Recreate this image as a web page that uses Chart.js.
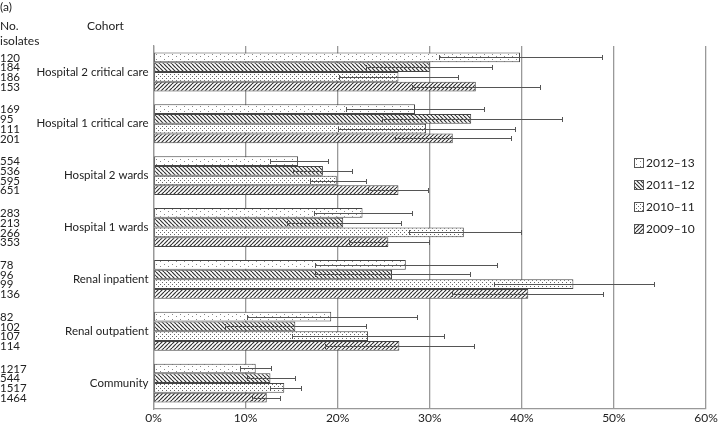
<!DOCTYPE html>
<html>
<head>
<meta charset="utf-8">
<script src="https://cdn.jsdelivr.net/npm/chart.js@4"></script>
<style>
  html, body { margin: 0; padding: 0; background: #fff; }
  #wrap { width: 723px; height: 425px; position: relative; }
</style>
</head>
<body>
<div id="wrap"><canvas id="chart" width="723" height="425"></canvas></div>
<script>
// --- data ---
const cohorts = ['Hospital 2 critical care', 'Hospital 1 critical care', 'Hospital 2 wards',
  'Hospital 1 wards', 'Renal inpatient', 'Renal outpatient', 'Community'];
const years = ['2012–13', '2011–12', '2010–11', '2009–10'];

// number of isolates per cohort, per year
const iso1213 = [120, 169, 554, 283, 78, 82, 1217];
const iso1112 = [184, 95, 536, 213, 96, 102, 544];
const iso1011 = [186, 111, 595, 266, 99, 107, 1517];
const iso0910 = [153, 201, 651, 353, 136, 114, 1464];

// percentage + confidence interval
const v1213 = [39.8, 28.4, 15.7, 22.7, 27.4, 19.3, 11.1];
const lo1213 = [31.0, 20.9, 12.7, 17.4, 17.5, 10.1, 9.4];
const hi1213 = [48.7, 35.9, 18.9, 28.1, 37.3, 28.6, 12.8];

const v1112 = [30.0, 34.5, 18.4, 20.6, 25.9, 15.4, 12.7];
const lo1112 = [23.1, 24.8, 15.2, 14.5, 17.5, 7.8, 10.1];
const hi1112 = [36.8, 44.4, 21.6, 26.9, 34.4, 23.1, 15.4];

const v1011 = [26.6, 29.6, 19.9, 33.7, 45.6, 23.3, 14.2];
const lo1011 = [20.1, 20.0, 17.0, 27.8, 37.0, 15.0, 12.6];
const hi1011 = [33.1, 39.3, 23.1, 39.9, 54.3, 31.6, 16.0];

const v0910 = [35.0, 32.5, 26.6, 25.5, 40.7, 26.7, 12.3];
const lo0910 = [28.1, 26.2, 23.3, 21.2, 32.4, 18.6, 10.7];
const hi0910 = [42.0, 38.8, 29.8, 29.9, 48.8, 34.8, 13.7];

const xTicks = [0, 10, 20, 30, 40, 50, 60];

const FONT = 'Lato, "Open Sans", sans-serif';
const INK = '#222';

// --- fill patterns ---
function makePattern(kind) {
  const c = document.createElement('canvas');
  const g = c.getContext('2d');
  if (kind === 'back' || kind === 'fwd') {
    const s = 4;
    c.width = s; c.height = s;
    g.fillStyle = '#fff'; g.fillRect(0, 0, s, s);
    g.strokeStyle = '#333'; g.lineWidth = 1.2;
    for (let i = -1; i <= 1; i++) {
      g.beginPath();
      if (kind === 'back') { g.moveTo(i * s, 0); g.lineTo(i * s + s, s); }
      else { g.moveTo(i * s, s); g.lineTo(i * s + s, 0); }
      g.stroke();
    }
  } else if (kind === 'dense') {
    c.width = 4; c.height = 4;
    g.fillStyle = '#fff'; g.fillRect(0, 0, 4, 4);
    g.fillStyle = '#666';
    g.fillRect(0, 0, 1, 1); g.fillRect(2, 2, 1, 1);
  } else {
    c.width = 8; c.height = 5;
    g.fillStyle = '#fff'; g.fillRect(0, 0, 8, 5);
    g.fillStyle = '#888';
    g.fillRect(0, 1, 1, 1); g.fillRect(4, 4, 1, 1);
  }
  return g.createPattern(c, 'repeat');
}

const fills = [makePattern('sparse'), makePattern('back'), makePattern('dense'), makePattern('fwd')];
const values = [v1213, v1112, v1011, v0910];
const lows = [lo1213, lo1112, lo1011, lo0910];
const highs = [hi1213, hi1112, hi1011, hi0910];
const isolates = [iso1213, iso1112, iso1011, iso0910];

// error bars, isolate counts, headers and legend
const extras = {
  id: 'extras',
  afterDatasetsDraw(chart) {
    const ctx = chart.ctx;
    const x = chart.scales.x;
    ctx.save();
    ctx.strokeStyle = '#555';
    ctx.lineWidth = 1;
    chart.data.datasets.forEach((ds, di) => {
      const meta = chart.getDatasetMeta(di);
      meta.data.forEach((bar, i) => {
        const y = Math.round(bar.y) + 0.5;
        const x1 = Math.round(x.getPixelForValue(lows[di][i])) + 0.5;
        const x2 = Math.round(x.getPixelForValue(highs[di][i])) + 0.5;
        ctx.beginPath();
        ctx.moveTo(x1, y); ctx.lineTo(x2, y);
        ctx.moveTo(x1, y - 2.5); ctx.lineTo(x1, y + 2.5);
        ctx.moveTo(x2, y - 2.5); ctx.lineTo(x2, y + 2.5);
        ctx.stroke();
      });
    });
    ctx.restore();
  },
  afterDraw(chart) {
    const ctx = chart.ctx;
    ctx.save();
    ctx.fillStyle = INK;
    ctx.textBaseline = 'middle';
    ctx.textAlign = 'left';
    // isolate counts next to each bar
    ctx.font = '11.5px ' + FONT;
    chart.data.datasets.forEach((ds, di) => {
      chart.getDatasetMeta(di).data.forEach((bar, i) => {
        ctx.fillText(String(isolates[di][i]), 0, bar.y + 0.5);
      });
    });
    // headers
    ctx.font = '12px ' + FONT;
    ctx.fillText('(a)', 0, 7);
    ctx.fillText('No.', 0, 26);
    ctx.fillText('isolates', 0, 41);
    ctx.fillText('Cohort', 87, 26);
    // legend
    years.forEach((yr, k) => {
      const ly = 163 + k * 22;
      ctx.fillStyle = fills[k];
      ctx.fillRect(634, ly - 4.5, 9, 9);
      ctx.strokeStyle = '#555';
      ctx.strokeRect(634.5, ly - 4.5, 9, 9);
      ctx.fillStyle = INK;
      ctx.fillText(yr, 646, ly);
    });
    ctx.restore();
  }
};

new Chart(document.getElementById('chart'), {
  type: 'bar',
  data: {
    labels: cohorts,
    datasets: years.map((yr, k) => ({
      label: yr,
      data: values[k],
      backgroundColor: fills[k],
      borderColor: '#444',
      borderWidth: 1,
      borderSkipped: false,
      categoryPercentage: 0.75,
      barPercentage: 1
    }))
  },
  options: {
    indexAxis: 'y',
    responsive: false,
    animation: false,
    devicePixelRatio: 1,
    layout: { padding: { top: 46, right: 17, left: 0, bottom: 0 } },
    plugins: { legend: { display: false }, tooltip: { enabled: false } },
    scales: {
      x: {
        min: 0, max: 60,
        afterBuildTicks: (s) => { s.ticks = xTicks.map(v => ({ value: v })); },
        afterFit: (s) => { s.height = 16; },
        grid: { color: '#999', lineWidth: 1.3, drawTicks: false },
        border: { color: '#999', width: 1.3 },
        ticks: { color: INK, font: { family: FONT, size: 12 }, padding: 2, callback: v => v + '%' }
      },
      y: {
        afterFit: (s) => { s.width = 153.5; },
        grid: { display: false, drawTicks: false },
        border: { color: '#999', width: 1.3 },
        ticks: { color: INK, font: { family: FONT, size: 11.5 }, padding: 5 }
      }
    }
  },
  plugins: [extras]
});
</script>
</body>
</html>
